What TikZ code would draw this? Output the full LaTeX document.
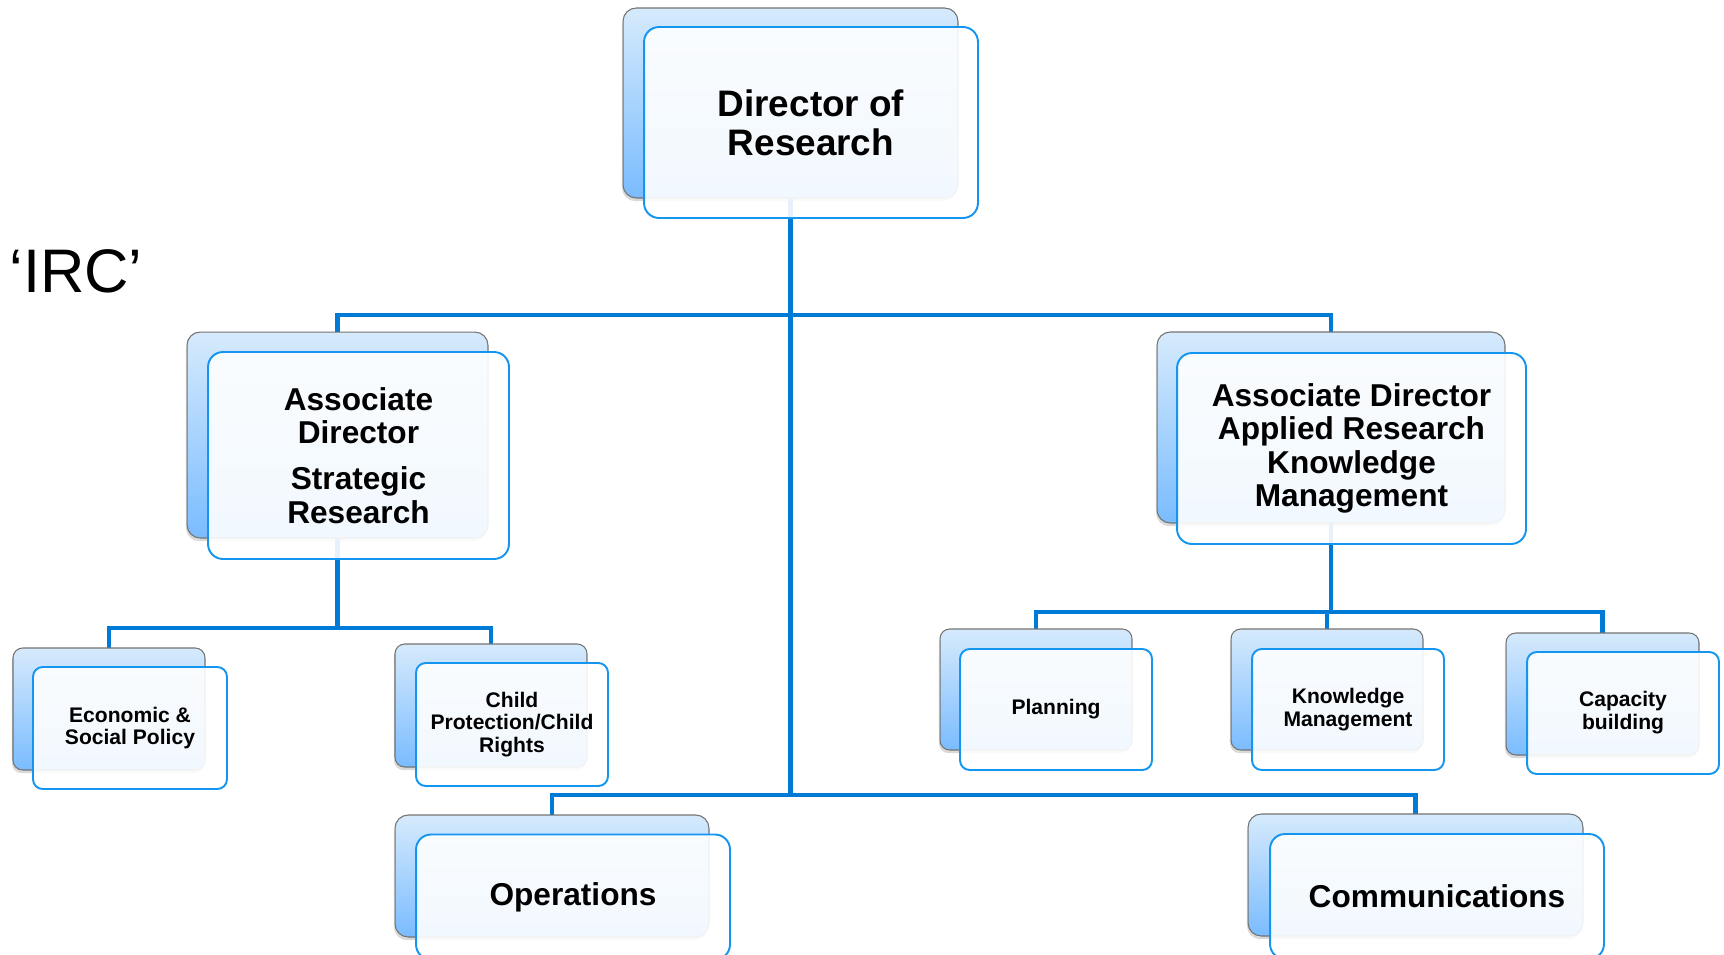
\documentclass[tikz,border=0pt]{standalone}
\usepackage{fontspec}
\setmainfont{Liberation Sans}
\usetikzlibrary{shadows,backgrounds}
\definecolor{connc}{RGB}{0,122,215}
\definecolor{frontc}{RGB}{20,150,240}
\definecolor{backtop}{RGB}{214,234,252}
\definecolor{backbot}{RGB}{122,188,255}
\definecolor{backdraw}{RGB}{115,115,115}
\tikzset{
  conn/.style={draw=connc, line width=2.4pt},
  backbox/.style={rectangle, rounded corners=7.5pt, draw=backdraw, line width=0.6pt,
    top color=backtop, bottom color=backbot, inner sep=0pt, outer sep=0pt,
    drop shadow={shadow xshift=-0.6pt, shadow yshift=-1.8pt, opacity=0.3}},
  frontbox/.style={rectangle, rounded corners=8.5pt, draw=frontc, line width=1.1pt,
    fill=white, fill opacity=0.9, text opacity=1, inner sep=0pt, outer sep=0pt,
    align=center, font=\bfseries},
  smallr/.style={rounded corners=5.5pt},
}
\begin{document}
\begin{tikzpicture}[x=0.02cm, y=-0.02cm]
\clip (0,0) rectangle (1724,954);

% IRC label
\node[anchor=base west, inner sep=0pt, font=\fontsize{35}{40}\selectfont] (irc) at (9,292) {‘IRC’};

% back boxes
\node[backbox, minimum width=6.70cm, minimum height=3.80cm] (topB) at (790.5,103) {};
\node[backbox, minimum width=6.02cm, minimum height=4.12cm] (laB) at (337.5,435) {};
\node[backbox, minimum width=6.96cm, minimum height=3.82cm] (raB) at (1331,427.5) {};
\node[backbox, smallr, minimum width=3.84cm, minimum height=2.44cm] (espB) at (109,709) {};
\node[backbox, smallr, minimum width=3.84cm, minimum height=2.46cm] (cpB) at (491,705.5) {};
\node[backbox, smallr, minimum width=3.84cm, minimum height=2.42cm] (plB) at (1036,689.5) {};
\node[backbox, smallr, minimum width=3.84cm, minimum height=2.42cm] (kmB) at (1327,689.5) {};
\node[backbox, smallr, minimum width=3.86cm, minimum height=2.44cm] (cbB) at (1602.5,694) {};
\node[backbox, minimum width=6.28cm, minimum height=2.44cm] (opB) at (552,876) {};
\node[backbox, minimum width=6.70cm, minimum height=2.44cm] (coB) at (1415.5,875) {};

% front boxes
\node[frontbox, minimum width=6.68cm, minimum height=3.82cm, font=\bfseries\fontsize{21}{22}\selectfont] (topF) at (811,122.5) {Director of\\Research};
\node[frontbox, minimum width=6.02cm, minimum height=4.14cm, font=\bfseries\fontsize{18}{19.3}\selectfont] (laF) at (358.5,455.5) {Associate\\Director\\[6.7pt]Strategic\\Research};
\node[frontbox, minimum width=6.98cm, minimum height=3.82cm, font=\bfseries\fontsize{18}{19}\selectfont] (raF) at (1351.5,448.5) {Associate Director\\Applied Research\\Knowledge\\Management};
\node[frontbox, smallr, minimum width=3.88cm, minimum height=2.44cm, font=\bfseries\fontsize{12}{13}\selectfont] (espF) at (130,728) {Economic \&\\Social Policy};
\node[frontbox, smallr, minimum width=3.84cm, minimum height=2.46cm, font=\bfseries\fontsize{12}{13}\selectfont] (cpF) at (512,724.5) {Child\\Protection/Child\\Rights};
\node[frontbox, smallr, minimum width=3.84cm, minimum height=2.42cm, font=\bfseries\fontsize{12}{13}\selectfont] (plF) at (1056,709.5) {Planning};
\node[frontbox, smallr, minimum width=3.84cm, minimum height=2.42cm, font=\bfseries\fontsize{12}{13}\selectfont] (kmF) at (1348,709.5) {Knowledge\\Management};
\node[frontbox, smallr, minimum width=3.84cm, minimum height=2.44cm, font=\bfseries\fontsize{12}{13}\selectfont] (cbF) at (1623,713) {Capacity\\building};
\node[frontbox, minimum width=6.28cm, minimum height=2.50cm, font=\bfseries\fontsize{18}{21}\selectfont] (opF) at (573,897) {Operations};
\node[frontbox, minimum width=6.68cm, minimum height=2.50cm, font=\bfseries\fontsize{18}{21}\selectfont] (coF) at (1437,896.5) {Communications};

% connectors
\begin{scope}[on background layer]
\coordinate (j1) at (790.5,315);
\coordinate (j2) at (790.5,795);
\coordinate (j3) at (337.5,628);
\coordinate (j4) at (1331,612);
\draw[conn] (topB.south) -- (j2);
\draw[conn] (laB.north) |- (j1) -| (raB.north);
\draw[conn] (opB.north) |- (j2) -| (coB.north);
\draw[conn] (laB.south) -- (j3);
\draw[conn] (espB.north) |- (j3) -| (cpB.north);
\draw[conn] (raB.south) -- (j4);
\draw[conn] (plB.north) |- (j4) -| (cbB.north);
\draw[conn] (kmB.north) -- (kmB.north |- j4);
\end{scope}
\end{tikzpicture}
\end{document}
